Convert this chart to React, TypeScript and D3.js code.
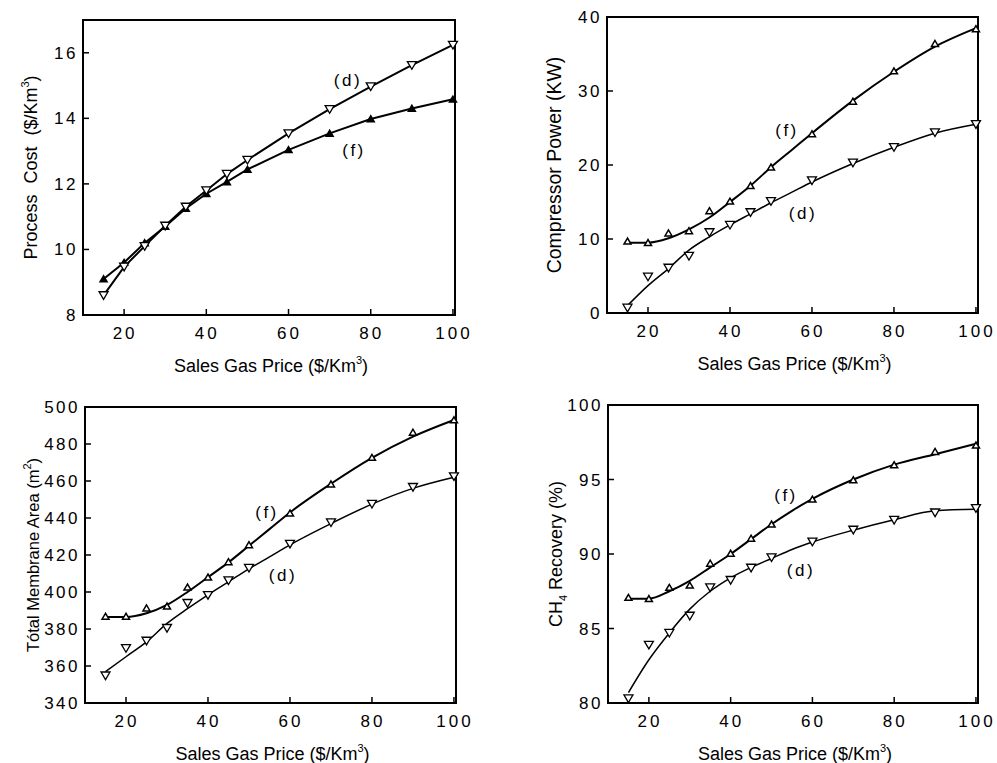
import * as d3 from 'd3'

// Sales gas price points used in every panel ($/Km3)
const PRICE = [15, 20, 25, 30, 35, 40, 45, 50, 60, 70, 80, 90, 100]
const FIT_PRICE = [15, 20, 25, 30, 35, 40, 45, 50, 55, 60, 70, 80, 90, 100]
const X_TICKS = [20, 40, 60, 80, 100]

// Process cost ($/Km3)
const COST_D = [8.6, 9.47, 10.1, 10.72, 11.3, 11.8, 12.3, 12.73, 13.54, 14.28, 14.97, 15.62, 16.24]
const COST_F = [9.1, 9.6, 10.2, 10.7, 11.25, 11.7, 12.06, 12.44, 13.04, 13.54, 13.98, 14.3, 14.58]

// Compressor power (KW)
const POWER_D = [0.7, 4.9, 6.1, 7.7, 10.9, 11.9, 13.6, 15.1, 17.9, 20.3, 22.4, 24.4, 25.5]
const POWER_F = [9.7, 9.5, 10.8, 11.1, 13.8, 15.1, 17.2, 19.7, 24.2, 28.6, 32.7, 36.4, 38.4]
const POWER_D_FIT = [1.0, 3.7, 6.0, 8.5, 10.3, 11.9, 13.4, 14.9, 16.3, 17.7, 20.2, 22.4, 24.3, 25.5]
const POWER_F_FIT = [9.5, 9.5, 10.1, 11.3, 12.9, 15.0, 17.2, 19.7, 22.0, 24.3, 28.7, 32.6, 36.0, 38.5]

// Total membrane area (m2)
const AREA_D = [354.8, 369.6, 373.6, 380.5, 394, 398.3, 406.2, 413, 426, 437.6, 447.6, 456.7, 462.5]
const AREA_F = [386.8, 386.8, 391.3, 392.3, 402.6, 408, 416.3, 425.5, 442.6, 458.3, 472.7, 486.3, 493]
const AREA_D_FIT = [357, 365, 373, 383, 391, 398.5, 405.5, 412.5, 419, 425.5, 437, 447.5, 456, 462]
const AREA_F_FIT = [386.5, 386.5, 388.5, 393, 400, 408, 416, 425, 434, 443, 458.5, 472.5, 484, 493]

// CH4 recovery (%)
const RECOV_D = [80.3, 83.9, 84.7, 85.85, 87.75, 88.25, 89.07, 89.77, 90.82, 91.62, 92.28, 92.78, 93.07]
const RECOV_F = [87.08, 87.0, 87.75, 87.9, 89.37, 90.04, 91.05, 92.0, 93.67, 94.97, 95.98, 96.87, 97.3]
const RECOV_D_FIT = [80.7, 82.9, 84.7, 86.3, 87.5, 88.4, 89.1, 89.7, 90.3, 90.8, 91.6, 92.3, 92.9, 93.0]
const RECOV_F_FIT = [87.0, 87.0, 87.5, 88.2, 89.1, 90.0, 91.0, 92.0, 92.9, 93.7, 95.0, 96.0, 96.7, 97.4]

const FONT = '"Liberation Sans", Arial, Helvetica, sans-serif'

function triDown(s) {
  return `M0,${s * 0.9}L${-s},${-s * 0.8}L${s},${-s * 0.8}Z`
}
function triUp(s) {
  return `M0,${-s * 0.9}L${-s},${s * 0.8}L${s},${s * 0.8}Z`
}

function Panel({ left, top, width, height, yDomain, yTicks, dVals, fVals, dFit, fFit,
  yTitle, yTitleSize = 18, yTitleWordSpacing = 0, labD, labF, smooth }) {
  const x = d3.scaleLinear().domain([10, 100.5]).range([left, left + width])
  const y = d3.scaleLinear().domain(yDomain).range([top + height, top])

  const pts = (vals, xs) => vals.map((v, i) => [xs[i], v])
  const line = d3.line()
    .x(d => x(d[0]))
    .y(d => y(d[1]))
    .curve(smooth ? d3.curveMonotoneX : d3.curveLinear)

  const dPath = smooth ? line(pts(dFit, FIT_PRICE)) : line(pts(dVals, PRICE))
  const fPath = smooth ? line(pts(fFit, FIT_PRICE)) : line(pts(fVals, PRICE))

  return (
    <g fontFamily={FONT} fill="#000">
      <rect x={left} y={top} width={width} height={height} fill="none" stroke="#000" strokeWidth={2} />

      {X_TICKS.map(t => (
        <g key={`xt-${t}`}>
          <line x1={x(t)} x2={x(t)} y1={top + height} y2={top + height - 6} stroke="#000" strokeWidth={1.5} />
          <text x={x(t) + 1} y={top + height + 24} textAnchor="middle" fontSize={17} letterSpacing={3}>{t}</text>
        </g>
      ))}
      {yTicks.map(t => (
        <g key={`yt-${t}`}>
          <line x1={left} x2={left + 6} y1={y(t)} y2={y(t)} stroke="#000" strokeWidth={1.5} />
          <text x={left - 5} y={y(t) + 6} textAnchor="end" fontSize={17} letterSpacing={2.5}>{t}</text>
        </g>
      ))}

      <path d={fPath} fill="none" stroke="#000" strokeWidth={2} />
      <path d={dPath} fill="none" stroke="#000" strokeWidth={smooth ? 1.5 : 2} />

      {fVals.map((v, i) => (
        <path key={`f-${i}`} d={triUp(3.5)} transform={`translate(${x(PRICE[i])},${y(v)})`}
          fill={smooth ? '#fff' : '#000'} stroke="#000" strokeWidth={1.5} />
      ))}
      {dVals.map((v, i) => (
        <path key={`d-${i}`} d={triDown(4.5)} transform={`translate(${x(PRICE[i])},${y(v)})`}
          fill="#fff" stroke="#000" strokeWidth={1.3} />
      ))}

      <text x={labD[0]} y={labD[1]} fontSize={17} letterSpacing={2.5} textAnchor="middle">(d)</text>
      <text x={labF[0]} y={labF[1]} fontSize={17} letterSpacing={2.5} textAnchor="middle">(f)</text>

      <text x={left + width / 2 + 2} y={top + height + 57} textAnchor="middle" fontSize={18}>
        Sales Gas Price ($/Km<tspan dy={-8} fontSize={11}>3</tspan><tspan dy={8}>)</tspan>
      </text>
      <text transform={`translate(${left - 46},${top + height / 2}) rotate(-90)`} textAnchor="middle"
        fontSize={yTitleSize} wordSpacing={yTitleWordSpacing}>
        {yTitle}
      </text>
    </g>
  )
}

export default function App() {
  return (
    <div style={{ position: 'absolute', left: 0, top: 0 }}>
      <svg width={997} height={763} style={{ display: 'block', background: '#fff' }}>
        <Panel left={83} top={20} width={372} height={295} yDomain={[8, 17]} yTicks={[8, 10, 12, 14, 16]}
          dVals={COST_D} fVals={COST_F} smooth={false}
          labD={[348, 86]} labF={[354, 156]} yTitleSize={18} yTitleWordSpacing={6}
          yTitle={<>Process Cost ($/Km<tspan dy={-8} fontSize={11}>3</tspan><tspan dy={8}>)</tspan></>} />
        <Panel left={607} top={17} width={371} height={296} yDomain={[0, 40]} yTicks={[0, 10, 20, 30, 40]}
          dVals={POWER_D} fVals={POWER_F} dFit={POWER_D_FIT} fFit={POWER_F_FIT} smooth
          labD={[803, 219]} labF={[787, 136]} yTitleSize={19.5}
          yTitle="Compressor Power (KW)" />
        <Panel left={85} top={407} width={371} height={296} yDomain={[340, 500]}
          yTicks={[340, 360, 380, 400, 420, 440, 460, 480, 500]}
          dVals={AREA_D} fVals={AREA_F} dFit={AREA_D_FIT} fFit={AREA_F_FIT} smooth
          labD={[283, 581]} labF={[267, 518]} yTitleSize={16.5}
          yTitle={<>Tótal Membrane Area (m<tspan dy={-8} fontSize={11}>2</tspan><tspan dy={8}>)</tspan></>} />
        <Panel left={608} top={405} width={370} height={298} yDomain={[80, 100]} yTicks={[80, 85, 90, 95, 100]}
          dVals={RECOV_D} fVals={RECOV_F} dFit={RECOV_D_FIT} fFit={RECOV_F_FIT} smooth
          labD={[801, 576]} labF={[786, 501]} yTitleSize={18}
          yTitle={<>CH<tspan dy={5} fontSize={11}>4</tspan><tspan dy={-5}> Recovery (%)</tspan></>} />
      </svg>
    </div>
  )
}
